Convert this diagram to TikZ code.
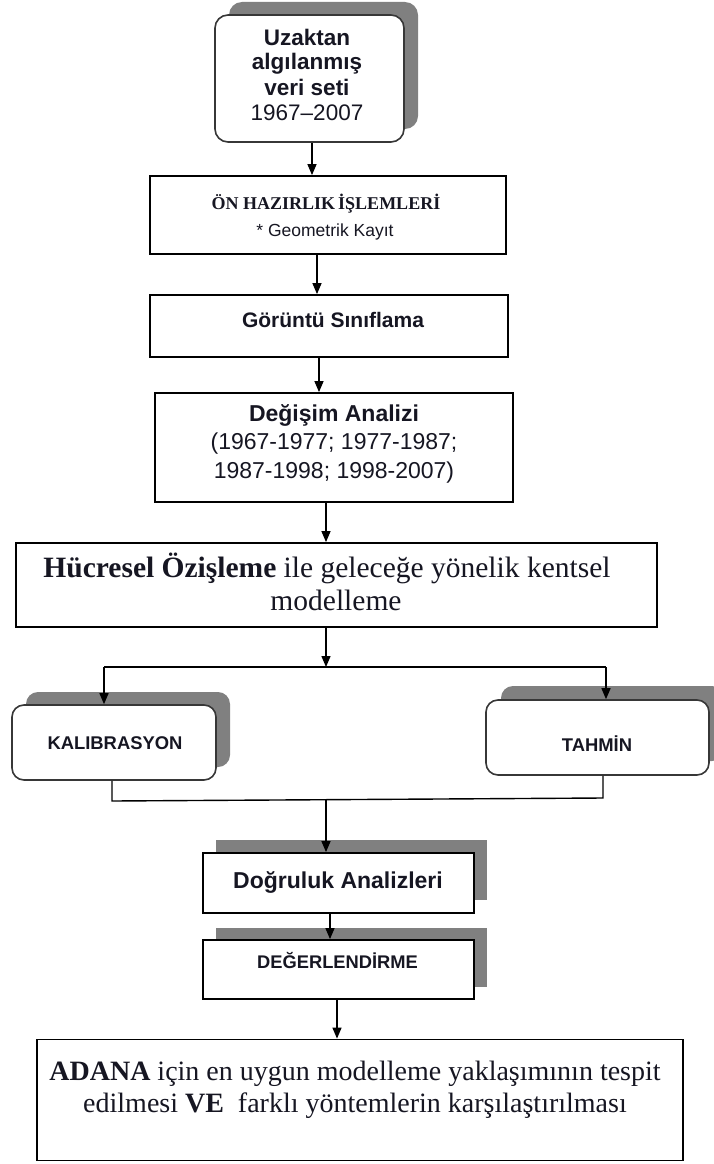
\documentclass[tikz,border=0pt]{standalone}
\usepackage{fontspec}
\setmainfont{Liberation Serif}
\setsansfont{Liberation Sans}
\usetikzlibrary{arrows.meta,shadows}

\definecolor{shadowgray}{RGB}{128,128,128}
\definecolor{inkc}{RGB}{22,22,34}
\definecolor{roundedge}{RGB}{55,55,55}

% stacked, centred lines of a label
\newcommand{\stacked}[1]{\begin{tabular}{@{}c@{}}#1\end{tabular}}

\begin{document}
\begin{tikzpicture}[x=1pt,y=-1pt,
  flowbox/.style={draw=black, line width=1.8pt, fill=white, inner sep=0pt},
  softbox/.style={draw=roundedge, line width=1.6pt, fill=white, rounded corners=13pt, inner sep=0pt},
  withshadow/.style 2 args={general shadow={fill=shadowgray, draw=none, shadow xshift=#1, shadow yshift=#2}},
  lbl/.style={inner sep=0pt, text=inkc},
  link/.style={draw=black, line width=1.4pt},
  flowarrow/.style={link, -{Triangle[length=11pt,width=9pt]}},
]
\useasboundingbox (0,0) rectangle (714,1164);
\clip (0,0) rectangle (714,1164);
\fill[white] (0,0) rectangle (714,1164);

% boxes
\node[softbox, withshadow={14pt}{13pt}, minimum width=189pt, minimum height=127pt] (src) at (309.5,78.5) {};
\node[flowbox, minimum width=356pt, minimum height=78pt] (pre) at (328,215) {};
\node[flowbox, minimum width=358pt, minimum height=62pt] (cls) at (329,326) {};
\node[flowbox, minimum width=358pt, minimum height=109pt] (chg) at (334,447.5) {};
\node[flowbox, minimum width=641pt, minimum height=84pt] (ca) at (336.5,585) {};
\node[softbox, rounded corners=12pt, withshadow={14pt}{13pt}, minimum width=204pt, minimum height=75pt] (kal) at (114,742.5) {};
\node[softbox, rounded corners=12pt, withshadow={15pt}{14pt}, minimum width=223pt, minimum height=75pt] (tah) at (597.5,737.5) {};
\node[flowbox, withshadow={13pt}{13pt}, minimum width=271pt, minimum height=60pt] (acc) at (338.5,883) {};
\node[flowbox, withshadow={13pt}{12pt}, minimum width=271pt, minimum height=59pt] (eval) at (338.5,969.5) {};
\node[flowbox, minimum width=646pt, minimum height=121pt] (res) at (360,1100) {};

% texts
\node[lbl, font=\sffamily\fontsize{22.5}{25}\selectfont] (srcText) at (307,77.5)
  {\stacked{\textbf{Uzaktan}\\\textbf{algılanmış}\\\textbf{veri seti}\\1967–2007}};
\node[lbl, font=\rmfamily\bfseries\fontsize{18}{21.6}\selectfont] (preA) at (326,205)
  {\stacked{ÖN HAZIRLIK\,İŞLEMLERİ}};
\node[lbl, font=\sffamily\fontsize{17.5}{21}\selectfont] (preB) at (325,232)
  {\stacked{* Geometrik Kayıt}};
\node[lbl, font=\sffamily\bfseries\fontsize{21}{25}\selectfont] (clsText) at (333,322)
  {\stacked{Görüntü Sınıflama}};
\node[lbl, font=\sffamily\fontsize{23}{28.5}\selectfont] (chgText) at (334,444)
  {\stacked{\textbf{Değişim Analizi}\\(1967-1977; 1977-1987;\\1987-1998; 1998-2007)}};
\node[lbl, font=\rmfamily\fontsize{29.5}{33}\selectfont] (caText) at (327,587)
  {\stacked{\textbf{Hücresel Özişleme} ile geleceğe yönelik kentsel\\\hspace*{18pt}modelleme}};
\node[lbl, font=\sffamily\bfseries\fontsize{18.4}{22}\selectfont] (kalText) at (115,745)
  {\stacked{KALIBRASYON}};
\node[lbl, font=\sffamily\bfseries\fontsize{18.4}{22}\selectfont] (tahText) at (597,747)
  {\stacked{TAHMİN}};
\node[lbl, font=\sffamily\bfseries\fontsize{23}{27.6}\selectfont] (accText) at (338,882.5)
  {\stacked{Doğruluk Analizleri}};
\node[lbl, font=\sffamily\bfseries\fontsize{18.3}{22}\selectfont] (evalText) at (337.5,964)
  {\stacked{DEĞERLENDİRME}};
\node[lbl, font=\rmfamily\fontsize{28}{32}\selectfont] (resText) at (355,1090)
  {\stacked{\textbf{ADANA} için en uygun modelleme yaklaşımının tespit\\edilmesi \textbf{VE} \ farklı yöntemlerin karşılaştırılması}};

% connector columns
\coordinate (xa) at (312,0);
\coordinate (xb) at (317,0);
\coordinate (xc) at (319,0);
\coordinate (xd) at (326,0);
\coordinate (xg) at (330,0);
\coordinate (xh) at (337,0);
\coordinate (splitC) at (326,667);
\coordinate (splitL) at (104,667);
\coordinate (splitR) at (606,667);
\coordinate (joinL) at (112,801);
\coordinate (joinR) at (603,798);
\coordinate (joinC) at (326,799.5);

% connectors
\draw[flowarrow] (src.south -| xa) -- (pre.north -| xa);
\draw[flowarrow] (pre.south -| xb) -- (cls.north -| xb);
\draw[flowarrow] (cls.south -| xc) -- (chg.north -| xc);
\draw[flowarrow] (chg.south -| xd) -- (ca.north -| xd);
\draw[flowarrow] (ca.south -| splitC) -- (splitC);
\draw[link] (splitL) -- (splitR);
\draw[flowarrow] (splitL) -- (kal.north -| splitL);
\draw[flowarrow] (splitR) -- (tah.north -| splitR);
\draw[link] (kal.south -| joinL) -- (joinL) -- (joinR) -- (tah.south -| joinR);
\draw[flowarrow] (joinC) -- (acc.north -| joinC);
\draw[flowarrow] (acc.south -| xg) -- (eval.north -| xg);
\draw[flowarrow] (eval.south -| xh) -- (res.north -| xh);
\end{tikzpicture}
\end{document}
